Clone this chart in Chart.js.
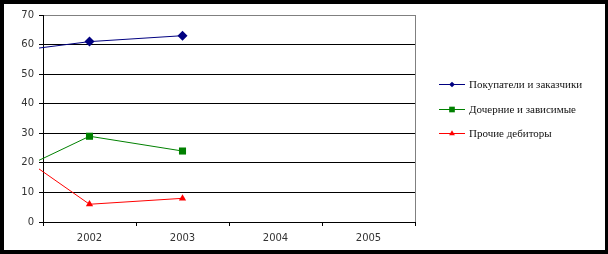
<!DOCTYPE html>
<html>
<head>
<meta charset="utf-8">
<script src="https://cdn.jsdelivr.net/npm/chart.js@4/dist/chart.umd.min.js"></script>
<style>
html,body{margin:0;padding:0;background:#000;width:608px;height:254px;overflow:hidden;}
#wrap{position:absolute;left:4px;top:4px;width:601px;height:246px;background:#fff;}
canvas{display:block;}
</style>
</head>
<body>
<div id="wrap"><canvas id="c" width="601" height="246"></canvas></div>
<script>
// Categories (2001 lies before the visible axis range; only its line segment enters the plot)
const categories = ['2001', '2002', '2003', '2004', '2005'];
const visibleFrom = '2002';
const seriesNames = ['Покупатели и заказчики', 'Дочерние и зависимые', 'Прочие дебиторы'];
const buyers = [57, 61, 63, null, null];
const subsidiaries = [14, 29, 24, null, null];
const otherDebtors = [28, 6, 8, null, null];
const yTicks = [0, 10, 20, 30, 40, 50, 60, 70];

const colors = ['#000080', '#008000', '#FF0000'];
const markers = ['rectRot', 'rect', 'triangle'];
const radii = [5, 5, 4.2];

function drawMarker(ctx, style, x, y, r, color) {
  ctx.save();
  ctx.fillStyle = color;
  ctx.beginPath();
  if (style === 'rectRot') {
    const s = r * Math.SQRT1_2;
    ctx.moveTo(x - s, y); ctx.lineTo(x, y + s); ctx.lineTo(x + s, y); ctx.lineTo(x, y - s);
  } else if (style === 'rect') {
    const s = r * Math.SQRT1_2;
    ctx.rect(x - s, y - s, 2 * s, 2 * s);
  } else {
    const h = r * 1.5, w = r * Math.sin(Math.PI / 3);
    ctx.moveTo(x, y - r); ctx.lineTo(x + w, y + r / 2); ctx.lineTo(x - w, y + r / 2);
  }
  ctx.closePath();
  ctx.fill();
  ctx.restore();
}

const legendPlugin = {
  id: 'customLegend',
  afterDraw(chart) {
    const ctx = chart.ctx;
    const ys = [80, 105, 129];
    chart.data.datasets.forEach((ds, i) => {
      const y = ys[i];
      ctx.save();
      ctx.strokeStyle = ds.borderColor;
      ctx.lineWidth = 1;
      ctx.beginPath();
      ctx.moveTo(435, y + 0.5); ctx.lineTo(461, y + 0.5);
      ctx.stroke();
      drawMarker(ctx, ds.pointStyle, 448, y + 0.5, ds.pointRadius * 0.8, ds.borderColor);
      ctx.fillStyle = '#111';
      ctx.font = '11px "Liberation Serif", "Times New Roman", serif';
      ctx.textBaseline = 'middle';
      ctx.textAlign = 'left';
      ctx.fillText(ds.label, 465, y + 1);
      ctx.restore();
    });
  }
};

const borderPlugin = {
  id: 'plotBorder',
  beforeDatasetsDraw(chart) {
    const {ctx, chartArea} = chart;
    ctx.save();
    ctx.strokeStyle = '#808080';
    ctx.lineWidth = 1;
    ctx.beginPath();
    const x = Math.round(chartArea.right) + 0.5;
    ctx.moveTo(x, chartArea.top);
    ctx.lineTo(x, chartArea.bottom);
    ctx.stroke();
    ctx.restore();
  }
};

const values = [buyers, subsidiaries, otherDebtors];
new Chart(document.getElementById('c'), {
  type: 'line',
  data: {
    labels: categories,
    datasets: seriesNames.map((name, i) => ({
      label: name,
      data: values[i],
      borderColor: colors[i],
      backgroundColor: colors[i],
      borderWidth: 1,
      pointStyle: markers[i],
      pointRadius: radii[i],
      pointHoverRadius: radii[i],
      pointBorderWidth: 0,
      pointBackgroundColor: colors[i],
      pointBorderColor: colors[i],
      tension: 0,
      fill: false,
      clip: {left: 4, top: 6, right: 6, bottom: 6}
    }))
  },
  options: {
    responsive: false,
    animation: false,
    events: [],
    layout: {padding: {left: 0, right: 190, top: 11, bottom: 0}},
    plugins: {legend: {display: false}, tooltip: {enabled: false}, title: {display: false}},
    scales: {
      x: {
        type: 'category',
        min: visibleFrom,
        offset: true,
        afterFit(scale) { scale.height = 28; },
        grid: {display: true, drawOnChartArea: false, drawTicks: true, tickLength: 4, color: '#000', offset: true},
        border: {display: true, color: '#000', width: 1},
        ticks: {color: '#333', font: {family: '"DejaVu Sans", Verdana, sans-serif', size: 10}, padding: 6, maxRotation: 0, autoSkip: false}
      },
      y: {
        min: yTicks[0],
        max: yTicks[yTicks.length - 1],
        afterFit(scale) { scale.width = 39; },
        afterBuildTicks(scale) { scale.ticks = yTicks.map(v => ({value: v})); },
        grid: {
          color: (c) => (c.tick && c.tick.value === 70) ? '#808080' : '#000',
          tickColor: '#000', tickLength: 4, lineWidth: 1
        },
        border: {display: true, color: '#000', width: 1},
        ticks: {color: '#333', font: {family: '"DejaVu Sans", Verdana, sans-serif', size: 10}, padding: 5}
      }
    }
  },
  plugins: [borderPlugin, legendPlugin]
});
</script>
</body>
</html>
